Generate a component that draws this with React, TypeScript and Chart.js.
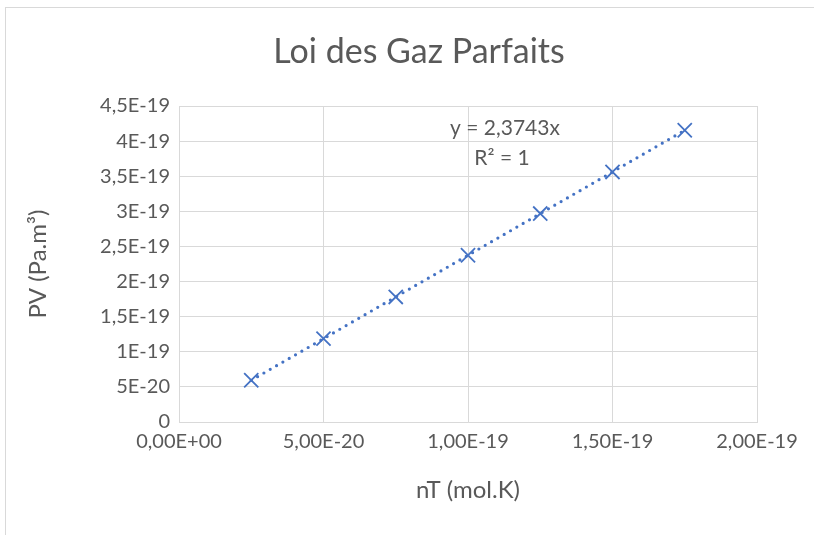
import React, { useEffect, useRef } from "react";
import { Chart, registerables } from "chart.js";

Chart.register(...registerables);

const nT = [2.5e-20, 5e-20, 7.5e-20, 1e-19, 1.25e-19, 1.5e-19, 1.75e-19];
const PV = [5.94e-20, 1.187e-19, 1.781e-19, 2.374e-19, 2.968e-19, 3.561e-19, 4.155e-19];
const trendX = [2.5e-20, 1.75e-19];
const trendY = [5.936e-20, 4.155e-19];
const xTickLabels = ["0,00E+00", "5,00E-20", "1,00E-19", "1,50E-19", "2,00E-19"];
const yTickLabels = ["0", "5E-20", "1E-19", "1,5E-19", "2E-19", "2,5E-19", "3E-19", "3,5E-19", "4E-19", "4,5E-19"];
const chartTitle = "Loi des Gaz Parfaits";
const equationLines = ["y = 2,3743x", "R² = 1"];
const equationAnchor = [1.128e-19, 4.19e-19];

const TEXT = "#595959";
const GRID = "#d9d9d9";
const BLUE = "#4472C4";
const FONT = "Lato, 'Open Sans', sans-serif";

export default function App() {
  const ref = useRef<HTMLCanvasElement | null>(null);
  useEffect(() => {
    if (!ref.current) return;
    const textPlugin = {
      id: "texts",
      afterDatasetsDraw(chart: any) {
        const { ctx, scales } = chart;
        ctx.save();
        ctx.fillStyle = TEXT;
        ctx.textAlign = "center";
        ctx.textBaseline = "middle";
        ctx.font = `34px ${FONT}`;
        ctx.fillText(chartTitle, 419, 52);
        const x = scales.x.getPixelForValue(equationAnchor[0]);
        const y = scales.y.getPixelForValue(equationAnchor[1]);
        ctx.font = `21px ${FONT}`;
        equationLines.forEach((t, i) => ctx.fillText(t, x - (i ? 3 : 0), y + i * 30));
        ctx.restore();
      },
    };
    const chart = new Chart(ref.current, {
      type: "scatter",
      data: {
        datasets: [
          {
            type: "line",
            data: trendX.map((x, i) => ({ x, y: trendY[i] })),
            borderColor: BLUE,
            borderWidth: 3.2,
            borderDash: [0, 7.3],
            borderCapStyle: "round",
            pointRadius: 0,
            fill: false,
          } as any,
          {
            data: nT.map((x, i) => ({ x, y: PV[i] })),
            pointStyle: "crossRot",
            pointRadius: 10,
            pointBorderWidth: 1.8,
            borderColor: BLUE,
            backgroundColor: BLUE,
            showLine: false,
          },
        ],
      },
      options: {
        animation: false,
        responsive: false,
        layout: { padding: { left: 20, right: 57, top: 106, bottom: 26 } },
        plugins: {
          legend: { display: false },
          tooltip: { enabled: false },
          title: { display: false },
        },
        scales: {
          x: {
            type: "linear",
            min: 0,
            max: 2e-19,
            ticks: {
              stepSize: 5e-20,
              color: TEXT,
              font: { family: FONT, size: 20 },
              padding: 8,
              callback: (_v: any, i: number) => xTickLabels[i],
            },
            grid: { color: GRID, lineWidth: 1, drawTicks: false },
            border: { color: GRID },
            title: {
              display: true,
              text: "nT (mol.K)",
              color: TEXT,
              font: { family: FONT, size: 24 },
              padding: { top: 4, bottom: 4 },
            },
            afterFit: (s: any) => { s.height = 87; },
          },
          y: {
            type: "linear",
            min: 0,
            max: 4.5e-19,
            ticks: {
              stepSize: 5e-20,
              color: TEXT,
              font: { family: FONT, size: 20 },
              padding: 9,
              callback: (_v: any, i: number) => yTickLabels[i],
            },
            grid: { color: GRID, lineWidth: 1, drawTicks: false },
            border: { color: GRID },
            title: {
              display: true,
              text: "PV (Pa.m³)",
              color: TEXT,
              font: { family: FONT, size: 24 },
              padding: { top: 4, bottom: 4 },
            },
            afterFit: (s: any) => { s.width = 159; },
          },
        },
      },
      plugins: [textPlugin],
    } as any);
    return () => chart.destroy();
  }, []);
  return (
    <div style={{ position: "fixed", left: 0, top: 0, width: 814, height: 535, overflow: "hidden", background: "#fff" }}>
      <div style={{ position: "absolute", left: 5, top: 7, width: 1000, height: 1000, border: `1px solid ${GRID}` }} />
      <canvas ref={ref} width={814} height={535} style={{ position: "absolute", left: 0, top: 0, display: "block" }} />
    </div>
  );
}
